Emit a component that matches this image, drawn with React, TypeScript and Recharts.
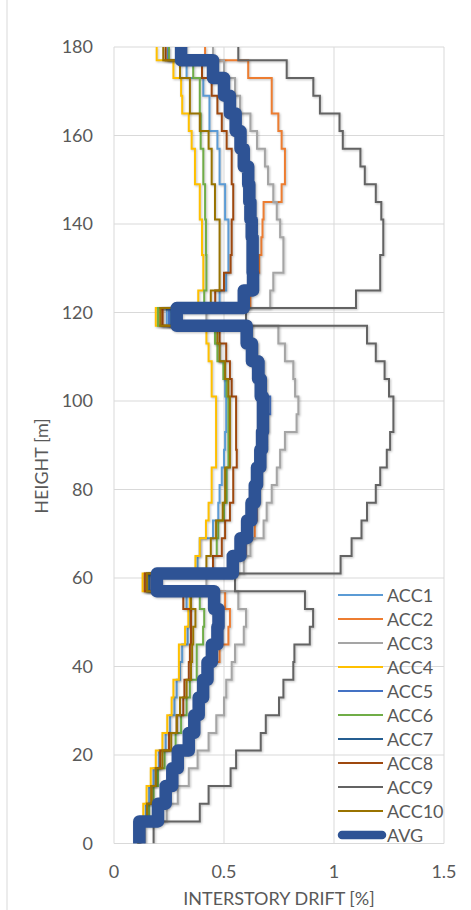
import React from 'react';
import { ScatterChart, Scatter, XAxis, YAxis, CartesianGrid } from 'recharts';

// Story boundaries (m): first story 5 m, then 4 m stories, chart clipped at 180 m
const FLOOR_LEVELS = [0, 5, 9, 13, 17, 21, 25, 29, 33, 37, 41, 45, 49, 53, 57, 61, 65, 69, 73, 77, 81, 85, 89, 93, 97, 101, 105, 109, 113, 117, 121, 125, 129, 133, 137, 141, 145, 149, 153, 157, 161, 165, 169, 173, 177, 180];

// Interstory drift [%] per story, bottom to top
const ACC1 = [0.11, 0.145, 0.16, 0.18, 0.205, 0.235, 0.255, 0.275, 0.285, 0.3, 0.31, 0.335, 0.345, 0.33, 0.14,
  0.38, 0.39, 0.45, 0.474, 0.48, 0.49, 0.5, 0.505, 0.51, 0.51, 0.505, 0.5, 0.48, 0.46, 0.24,
  0.48, 0.51, 0.52, 0.52, 0.52, 0.505, 0.505, 0.48, 0.48, 0.47, 0.434, 0.434, 0.406, 0.33, 0.245];
const ACC2 = [0.12, 0.2, 0.24, 0.27, 0.3, 0.34, 0.37, 0.39, 0.41, 0.43, 0.48, 0.52, 0.527, 0.505, 0.17,
  0.56, 0.6, 0.64, 0.65, 0.66, 0.665, 0.67, 0.68, 0.685, 0.685, 0.675, 0.66, 0.64, 0.62, 0.22,
  0.62, 0.64, 0.66, 0.67, 0.675, 0.68, 0.762, 0.777, 0.777, 0.762, 0.747, 0.717, 0.717, 0.61, 0.414];
const ACC3 = [0.14, 0.24, 0.29, 0.34, 0.38, 0.43, 0.465, 0.5, 0.51, 0.535, 0.55, 0.59, 0.6, 0.565, 0.42,
  0.59, 0.62, 0.68, 0.694, 0.717, 0.74, 0.755, 0.777, 0.83, 0.838, 0.823, 0.815, 0.777, 0.747, 0.42,
  0.71, 0.724, 0.77, 0.77, 0.755, 0.74, 0.724, 0.7, 0.686, 0.65, 0.62, 0.573, 0.55, 0.5, 0.45];
const ACC4 = [0.11, 0.133, 0.148, 0.167, 0.19, 0.22, 0.242, 0.262, 0.27, 0.295, 0.295, 0.323, 0.338, 0.345, 0.13,
  0.37, 0.39, 0.418, 0.43, 0.444, 0.444, 0.464, 0.464, 0.464, 0.464, 0.444, 0.444, 0.43, 0.42, 0.19,
  0.383, 0.406, 0.406, 0.4, 0.4, 0.39, 0.39, 0.368, 0.368, 0.353, 0.34, 0.31, 0.305, 0.27, 0.194];
const ACC5 = [0.12, 0.21, 0.24, 0.27, 0.3, 0.35, 0.37, 0.39, 0.41, 0.43, 0.45, 0.47, 0.48, 0.46, 0.17,
  0.55, 0.585, 0.615, 0.635, 0.655, 0.665, 0.68, 0.69, 0.7, 0.71, 0.69, 0.68, 0.65, 0.625, 0.25,
  0.6, 0.64, 0.645, 0.645, 0.64, 0.635, 0.63, 0.62, 0.6, 0.585, 0.56, 0.535, 0.505, 0.45, 0.31];
const ACC6 = [0.11, 0.16, 0.18, 0.2, 0.23, 0.28, 0.305, 0.33, 0.345, 0.376, 0.376, 0.405, 0.41, 0.39, 0.15,
  0.45, 0.467, 0.474, 0.5, 0.512, 0.512, 0.52, 0.52, 0.52, 0.52, 0.512, 0.497, 0.47, 0.459, 0.2,
  0.41, 0.42, 0.42, 0.418, 0.418, 0.414, 0.414, 0.406, 0.406, 0.394, 0.394, 0.39, 0.39, 0.36, 0.25];
const ACC7 = [0.115, 0.2, 0.235, 0.265, 0.29, 0.335, 0.36, 0.38, 0.4, 0.42, 0.44, 0.46, 0.47, 0.45, 0.16,
  0.53, 0.565, 0.6, 0.62, 0.635, 0.645, 0.66, 0.67, 0.68, 0.69, 0.67, 0.66, 0.625, 0.6, 0.26,
  0.58, 0.625, 0.625, 0.625, 0.62, 0.615, 0.61, 0.6, 0.58, 0.565, 0.545, 0.52, 0.49, 0.44, 0.3];
const ACC8 = [0.11, 0.15, 0.17, 0.19, 0.21, 0.25, 0.285, 0.315, 0.32, 0.34, 0.345, 0.35, 0.35, 0.315, 0.14,
  0.45, 0.49, 0.505, 0.527, 0.542, 0.542, 0.558, 0.555, 0.555, 0.555, 0.535, 0.527, 0.51, 0.48, 0.22,
  0.46, 0.5, 0.53, 0.535, 0.535, 0.542, 0.542, 0.535, 0.535, 0.512, 0.49, 0.47, 0.444, 0.4, 0.235];
const ACC9 = [0.18, 0.39, 0.43, 0.53, 0.555, 0.667, 0.69, 0.75, 0.77, 0.815, 0.82, 0.89, 0.905, 0.868, 0.55,
  1.03, 1.08, 1.125, 1.15, 1.19, 1.21, 1.24, 1.255, 1.27, 1.27, 1.25, 1.23, 1.19, 1.15, 0.6,
  1.1, 1.21, 1.21, 1.224, 1.224, 1.215, 1.19, 1.14, 1.12, 1.04, 1.025, 0.936, 0.906, 0.785, 0.565];
const ACC10 = [0.11, 0.15, 0.17, 0.19, 0.22, 0.26, 0.285, 0.3, 0.33, 0.35, 0.355, 0.36, 0.37, 0.35, 0.15,
  0.42, 0.44, 0.464, 0.494, 0.505, 0.505, 0.527, 0.527, 0.527, 0.527, 0.52, 0.505, 0.48, 0.47, 0.21,
  0.44, 0.48, 0.48, 0.48, 0.48, 0.459, 0.459, 0.444, 0.444, 0.43, 0.39, 0.345, 0.345, 0.3, 0.224];
const AVG = [0.115, 0.2, 0.235, 0.265, 0.29, 0.34, 0.365, 0.385, 0.405, 0.425, 0.445, 0.47, 0.475, 0.455, 0.195,
  0.54, 0.575, 0.605, 0.625, 0.64, 0.65, 0.665, 0.673, 0.677, 0.677, 0.667, 0.655, 0.627, 0.603, 0.285,
  0.59, 0.632, 0.63, 0.63, 0.626, 0.62, 0.615, 0.61, 0.59, 0.575, 0.553, 0.527, 0.5, 0.45, 0.305];

const SERIES_NAMES = ['ACC1', 'ACC2', 'ACC3', 'ACC4', 'ACC5', 'ACC6', 'ACC7', 'ACC8', 'ACC9', 'ACC10', 'AVG'];
const SERIES_VALUES = [ACC1, ACC2, ACC3, ACC4, ACC5, ACC6, ACC7, ACC8, ACC9, ACC10, AVG];
const SERIES_COLORS = ['#5B9BD5', '#ED7D31', '#A5A5A5', '#FFC000', '#4472C4', '#70AD47', '#255E91', '#9E480E', '#636363', '#997300', '#2E5395'];

const X_TICKS = [0, 0.5, 1, 1.5];
const Y_TICKS = [0, 20, 40, 60, 80, 100, 120, 140, 160, 180];

const FONT = 'Lato, "Open Sans", sans-serif';
const TEXT = '#595959';
const FS = 18;

// step profile: each story drawn as a vertical segment between its floor levels
function toSteps(values: number[]) {
  const pts: { x: number; y: number }[] = [];
  values.forEach((v, i) => {
    pts.push({ x: v, y: FLOOR_LEVELS[i] });
    pts.push({ x: v, y: FLOOR_LEVELS[i + 1] });
  });
  return pts;
}

const noShape = () => <g />;

export default function App() {
  const W = 471;
  const H = 910;
  return (
    <div style={{ position: 'absolute', left: 0, top: 0, width: W, height: H, background: '#fff' }}>
      <style>{`.recharts-scatter path { filter: drop-shadow(1px 1.5px 1.2px rgba(0,0,0,0.25)); }`}</style>
      <ScatterChart width={W} height={H} margin={{ top: 47, right: 27, bottom: 36.5, left: 14 }}>
        <CartesianGrid stroke="#D9D9D9" strokeWidth={1} />
        <XAxis
          type="number"
          dataKey="x"
          domain={[0, 1.5]}
          ticks={X_TICKS}
          axisLine={false}
          tickLine={false}
          tickSize={0}
          tickMargin={22}
          tick={{ fill: TEXT, fontSize: FS, fontFamily: FONT }}
          allowDataOverflow
        />
        <YAxis
          type="number"
          dataKey="y"
          domain={[0, 180]}
          ticks={Y_TICKS}
          width={100}
          axisLine={false}
          tickLine={false}
          tickSize={0}
          tickMargin={21}
          tick={{ fill: TEXT, fontSize: FS, fontFamily: FONT }}
          allowDataOverflow
        />
        {SERIES_NAMES.map((name, i) => {
          const isAvg = name === 'AVG';
          return (
            <Scatter
              key={name}
              name={name}
              data={toSteps(SERIES_VALUES[i])}
              fill={SERIES_COLORS[i]}
              shape={noShape}
              isAnimationActive={false}
              line={{
                stroke: SERIES_COLORS[i],
                strokeWidth: isAvg ? 12.5 : 2,
                strokeLinejoin: isAvg ? 'round' : 'miter',
                strokeLinecap: isAvg ? 'round' : 'butt',
                fill: 'none',
              }}
            />
          );
        })}
      </ScatterChart>
      <svg
        width={W}
        height={H}
        style={{ position: 'absolute', left: 0, top: 0, pointerEvents: 'none' }}
      >
        <line x1={7} y1={0} x2={7} y2={H} stroke="#D9D9D9" strokeWidth={1} />
        <text x={279} y={905} textAnchor="middle" fill={TEXT} fontSize={FS} fontFamily={FONT}>
          INTERSTORY DRIFT [%]
        </text>
        <text
          x={0}
          y={0}
          transform="translate(48, 466) rotate(-90)"
          textAnchor="middle"
          fill={TEXT}
          fontSize={FS}
          fontFamily={FONT}
        >
          HEIGHT [m]
        </text>
        {SERIES_NAMES.map((name, i) => {
          const y = 595 + 24 * i;
          const isAvg = name === 'AVG';
          return (
            <g key={name}>
              <line
                x1={isAvg ? 342 : 338}
                x2={isAvg ? 382 : 383}
                y1={y}
                y2={y}
                stroke={SERIES_COLORS[i]}
                strokeWidth={isAvg ? 8.5 : 2}
                strokeLinecap={isAvg ? 'round' : 'butt'}
              />
              <text x={387} y={y + 6.5} fill={TEXT} fontSize={FS} fontFamily={FONT}>
                {name}
              </text>
            </g>
          );
        })}
      </svg>
    </div>
  );
}
